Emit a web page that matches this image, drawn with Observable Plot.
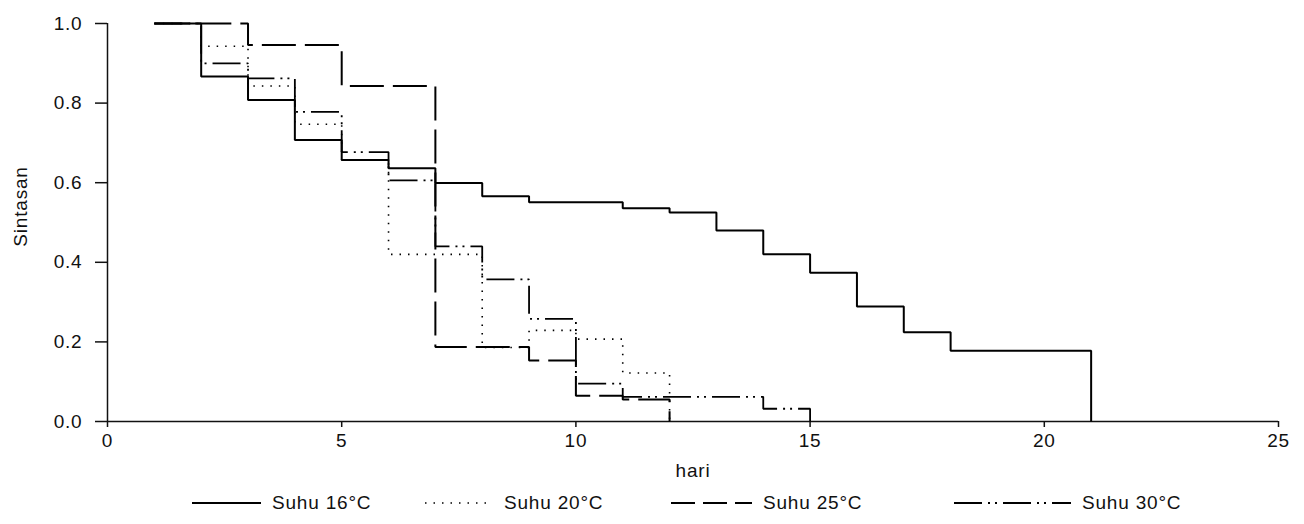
<!DOCTYPE html>
<html>
<head>
<meta charset="utf-8">
<script src="https://cdn.jsdelivr.net/npm/d3@7"></script>
<script src="https://cdn.jsdelivr.net/npm/@observablehq/plot@0.6"></script>
<style>
  html, body { margin: 0; padding: 0; background: #fff; }
  body { width: 1304px; height: 524px; overflow: hidden; font-family: "Liberation Sans", Arial, sans-serif; }
  #legend { position: relative; width: 1304px; height: 44px; font-size: 19px; letter-spacing: 0.8px; color: #111; }
  .item { position: absolute; top: 11px; display: flex; align-items: center; height: 24px; white-space: nowrap; }
  .item svg { display: block; margin-right: 11px; }
</style>
</head>
<body>
<div id="chart"></div>
<div id="legend"></div>
<script>
// ---- data ----
const xTicks = [0, 5, 10, 15, 20, 25];
const yTicks = [0, 0.2, 0.4, 0.6, 0.8, 1.0];
const xLabel = "hari";
const yLabel = "Sintasan";

const seriesNames = ["Suhu 16\u00B0C", "Suhu 20\u00B0C", "Suhu 25\u00B0C", "Suhu 30\u00B0C"];

const t16 = [1, 2, 3, 4, 5, 6, 7, 8, 9, 11, 12, 13, 14, 15, 16, 17, 18, 21];
const s16 = [1.0, 0.867, 0.808, 0.707, 0.657, 0.636, 0.599, 0.566, 0.551, 0.536, 0.525, 0.48, 0.42, 0.374, 0.289, 0.224, 0.178, 0];

const t20 = [1, 2, 3, 4, 5, 6, 8, 9, 10, 11, 12];
const s20 = [1.0, 0.943, 0.843, 0.747, 0.657, 0.42, 0.186, 0.229, 0.207, 0.122, 0];

const t25 = [1, 3, 5, 7, 9, 10, 11, 12];
const s25 = [1.0, 0.946, 0.843, 0.187, 0.153, 0.065, 0.055, 0];

const t30 = [1, 2, 3, 4, 5, 6, 7, 8, 9, 10, 11, 14, 15];
const s30 = [1.0, 0.9, 0.862, 0.778, 0.677, 0.606, 0.44, 0.357, 0.258, 0.095, 0.062, 0.032, 0];

// ---- styles ----
const dashes = [null, "1.5,7", "34,9", "28,6,2,5,2,6"];
const widths = [2, 1.6, 2, 1.8];

const rows = (t, s) => t.map((d, i) => ({day: d, surv: s[i]}));
const data = [rows(t16, s16), rows(t20, s20), rows(t25, s25), rows(t30, s30)];

const chart = Plot.plot({
  width: 1304,
  height: 480,
  marginTop: 23,
  marginLeft: 107,
  marginRight: 26,
  marginBottom: 59,
  style: {fontFamily: "'Liberation Sans', Arial, sans-serif", fontSize: "19px", color: "#111", background: "#fff", letterSpacing: "0.8px"},
  x: {domain: [0, 25]},
  y: {domain: [0, 1]},
  marks: [
    Plot.axisX({ticks: xTicks, tickSize: 6, tickPadding: 6, strokeWidth: 1.5, stroke: "#111",
      label: xLabel, labelAnchor: "center", labelOffset: 55, labelArrow: "none"}),
    Plot.axisY({ticks: yTicks, tickFormat: d3.format(".1f"), tickSize: 12, tickPadding: 13, strokeWidth: 1.5, stroke: "#111",
      label: null}),
    Plot.text([yLabel], {frameAnchor: "left", dx: -87, dy: -16, rotate: -90, textAnchor: "middle", lineAnchor: "middle", fill: "#111"}),
    Plot.ruleX([0], {y1: 0, y2: 1, stroke: "#111", strokeWidth: 1.5}),
    Plot.ruleY([0], {stroke: "#111", strokeWidth: 1.5}),
    ...data.map((d, i) => Plot.line(d, {
      x: "day", y: "surv", curve: "step-after",
      stroke: "#000", strokeWidth: widths[i],
      strokeDasharray: dashes[i] || undefined,
      strokeLinecap: "butt", strokeLinejoin: "miter"
    }))
  ]
});
document.getElementById("chart").appendChild(chart);

// ---- legend (below the svg) ----
const legendLeft = [192, 425, 671, 954];
const legendLen = [69, 68, 81, 117];
const legend = document.getElementById("legend");
seriesNames.forEach((name, i) => {
  const item = document.createElement("div");
  item.className = "item";
  item.style.left = legendLeft[i] + "px";
  const w = legendLen[i];
  item.innerHTML = `<svg width="${w}" height="10"><line x1="0" x2="${w}" y1="5" y2="5" stroke="#000" stroke-width="${widths[i]}" ${dashes[i] ? `stroke-dasharray="${i === 2 ? '24,8' : dashes[i]}"` : ""}/></svg><span>${name}</span>`;
  legend.appendChild(item);
});
</script>
</body>
</html>
